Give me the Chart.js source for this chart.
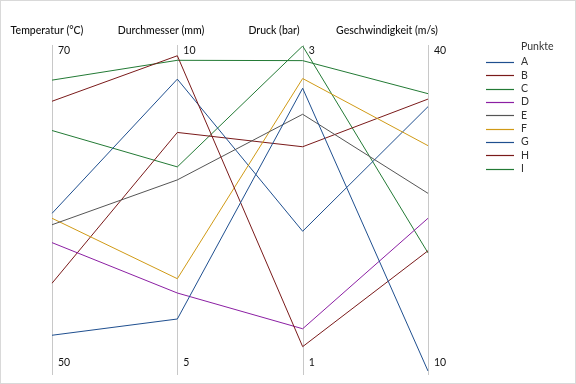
<!DOCTYPE html>
<html>
<head>
<meta charset="utf-8">
<script src="https://cdn.jsdelivr.net/npm/chart.js@4.4.0/dist/chart.umd.min.js"></script>
<style>
  html, body { margin: 0; padding: 0; background: #fff; }
  #wrap { width: 576px; height: 384px; position: relative; }
</style>
</head>
<body>
<div id="wrap"><canvas id="parallelChart"></canvas></div>
<script>
// Axes (categories) and their scale ends
const axisTitles = ['Temperatur (°C)', 'Durchmesser (mm)', 'Druck (bar)', 'Geschwindigkeit (m/s)'];
const axisMin = [50, 5, 1, 10];
const axisMax = [70, 10, 3, 40];

// Points and their values per axis
const points = ['A', 'B', 'C', 'D', 'E', 'F', 'G', 'H', 'I'];
const temperatur = [52.2, 66.6, 67.9, 57.9, 59.0, 59.4, 59.7, 55.4, 64.8];
const durchmesser = [5.8, 9.85, 9.78, 6.2, 7.94, 6.42, 9.49, 8.67, 8.14];
const druck = [2.74, 1.15, 2.91, 1.26, 2.58, 2.80, 1.86, 2.38, 3.0];
const geschwindigkeit = [10, 21.1, 35.6, 24.1, 26.4, 30.8, 34.4, 35.1, 20.9];

const lineColors = ['#1f4f8f', '#7a1a1a', '#237a35', '#8b1fa3', '#555555', '#d09a16', '#1f4f8f', '#7a1a1a', '#237a35'];

const FONT = "Lato, 'Noto Sans', sans-serif";
const TEXT = '#111111';

// normalise each value onto its own axis (0 = min, 1 = max)
function norm(v, i) {
    return (v - axisMin[i]) / (axisMax[i] - axisMin[i]);
}

const datasets = points.map((p, k) => ({
    label: p,
    data: [temperatur[k], durchmesser[k], druck[k], geschwindigkeit[k]].map((v, i) => norm(v, i)),
    borderColor: lineColors[k],
    backgroundColor: lineColors[k],
    borderWidth: 1,
    pointRadius: 0,
    tension: 0,
    fill: false
}));

// vertical axes, titles and min/max labels
const axesPlugin = {
    id: 'parallelAxes',
    beforeDatasetsDraw(chart) {
        const ctx = chart.ctx;
        const x = chart.scales.x;
        const area = chart.chartArea;
        ctx.save();
        ctx.strokeStyle = '#c8c8c8';
        ctx.lineWidth = 1;
        axisTitles.forEach((t, i) => {
            const px = Math.round(x.getPixelForValue(i)) + 0.5;
            ctx.beginPath();
            ctx.moveTo(px, area.top - 1);
            ctx.lineTo(px, area.bottom + 4);
            ctx.stroke();
        });
        ctx.restore();
    },
    afterDraw(chart) {
        const ctx = chart.ctx;
        const x = chart.scales.x;
        const titleCenters = [47, 161, 274, 387];
        ctx.save();
        ctx.fillStyle = TEXT;
        ctx.textBaseline = 'middle';
        axisTitles.forEach((t, i) => {
            ctx.font = '500 10.5px ' + FONT;
            ctx.textAlign = 'center';
            ctx.fillText(t, titleCenters[i], 31);
            const px = x.getPixelForValue(i);
            ctx.font = '10.5px ' + FONT;
            ctx.textAlign = 'left';
            ctx.fillText(String(axisMax[i]), px + 6, 51);
            ctx.fillText(String(axisMin[i]), px + 6, 363);
        });

        // legend
        ctx.font = '10.5px ' + FONT;
        ctx.fillStyle = '#333';
        ctx.fillText('Punkte', 521, 47);
        chart.data.datasets.forEach((ds, k) => {
            const y = 62 + k * 13.35;
            ctx.strokeStyle = ds.borderColor;
            ctx.lineWidth = 1.2;
            ctx.beginPath();
            ctx.moveTo(486, Math.round(y) + 0.5);
            ctx.lineTo(514, Math.round(y) + 0.5);
            ctx.stroke();
            ctx.fillText(ds.label, 521, y);
        });

        // outer frame
        ctx.strokeStyle = '#d9d9d9';
        ctx.lineWidth = 1;
        ctx.strokeRect(0.5, 0.5, chart.width - 1, chart.height - 1);
        ctx.restore();
    }
};

const chart = new Chart(document.getElementById('parallelChart'), {
    type: 'line',
    data: {
        labels: axisTitles,
        datasets: datasets
    },
    options: {
        responsive: true,
        maintainAspectRatio: false,
        animation: false,
        layout: {
            padding: { left: 52, right: 148, top: 46, bottom: 13 }
        },
        plugins: {
            legend: { display: false },
            tooltip: { enabled: false }
        },
        scales: {
            x: { display: false, offset: false },
            y: { display: false, min: 0, max: 1 }
        }
    },
    plugins: [axesPlugin]
});
</script>
</body>
</html>
